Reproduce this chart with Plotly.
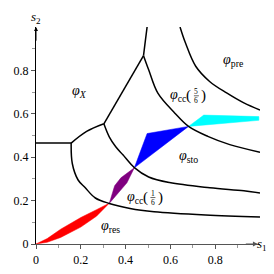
import plotly.graph_objects as go

# ---- boundary curves (s1, s2) ----
h_s1 = [0.0, 0.157]
h_s2 = [0.465, 0.465]

ab_s1 = [0.157, 0.226, 0.303]
ab_s2 = [0.465, 0.519, 0.554]

bc_s1 = [0.303, 0.480]
bc_s2 = [0.554, 0.868]

top_s1 = [0.480, 0.488, 0.496]
top_s2 = [0.868, 0.935, 1.0]

c1_s1 = [0.157, 0.162, 0.188, 0.219, 0.265, 0.327, 0.42, 0.527, 0.757, 1.0]
c1_s2 = [0.465, 0.371, 0.295, 0.260, 0.212, 0.187, 0.164, 0.149, 0.134, 0.125]

e_s1 = [0.303, 0.327, 0.356, 0.388, 0.439, 0.503, 0.596, 0.776, 0.928, 1.0]
e_s2 = [0.554, 0.494, 0.448, 0.411, 0.352, 0.309, 0.283, 0.259, 0.245, 0.235]

c2_s1 = [0.480, 0.503, 0.544, 0.620, 0.681, 0.767, 0.865, 1.0]
c2_s2 = [0.868, 0.803, 0.695, 0.603, 0.542, 0.496, 0.458, 0.423]

pre_s1 = [0.643, 0.667, 0.713, 0.775, 0.851, 0.928, 1.0]
pre_s2 = [1.0, 0.927, 0.819, 0.749, 0.696, 0.650, 0.617]

# ---- filled regions ----
red_s1 = [0.0, 0.05, 0.11, 0.20, 0.27, 0.327, 0.27, 0.20, 0.11, 0.05, 0.0]
red_s2 = [0.0, 0.025, 0.068, 0.122, 0.158, 0.188, 0.128, 0.078, 0.030, 0.008, 0.0]

purple_s1 = [0.327, 0.351, 0.379, 0.439, 0.406, 0.327]
purple_s2 = [0.187, 0.268, 0.305, 0.351, 0.282, 0.187]

blue_s1 = [0.439, 0.496, 0.681, 0.439]
blue_s2 = [0.351, 0.509, 0.542, 0.351]

cyan_s1 = [0.681, 0.749, 0.995, 0.995, 0.681]
cyan_s2 = [0.542, 0.594, 0.587, 0.570, 0.542]

# ---- labels ----
lab_text = ["<i>φ</i><sub><i>X</i></sub>", "<i>φ</i><sub>pre</sub>",
            "<i>φ</i><sub>sto</sub>", "<i>φ</i><sub>res</sub>"]
lab_s1 = [0.194, 0.882, 0.682, 0.334]
lab_s2 = [0.702, 0.846, 0.402, 0.082]

cc_num = ["5", "1"]
cc_den = ["6", "6"]
cc_s1 = [0.716, 0.522]
cc_s2 = [0.683, 0.214]

xticks = [0, 0.2, 0.4, 0.6, 0.8]
xtick_text = ["0", "0.2", "0.4", "0.6", "0.8"]
yticks = [0, 0.2, 0.4, 0.6, 0.8]
ytick_text = ["0", "0.2", "0.4", "0.6", "0.8"]
minor_ticks = [0.1, 0.3, 0.5, 0.7, 0.9]

SERIF = "Liberation Serif, DejaVu Serif, serif"

fig = go.Figure()

for xs, ys, col in [(red_s1, red_s2, "#ff0000"), (purple_s1, purple_s2, "#800080"),
                    (blue_s1, blue_s2, "#0000ff"), (cyan_s1, cyan_s2, "#00ffff")]:
    fig.add_trace(go.Scatter(x=xs, y=ys, mode="lines", fill="toself", fillcolor=col,
                             line=dict(color=col, width=0.5), hoverinfo="skip"))

for xs, ys, shp in [(h_s1, h_s2, "linear"), (ab_s1, ab_s2, "spline"), (bc_s1, bc_s2, "linear"),
                    (top_s1, top_s2, "spline"), (c1_s1, c1_s2, "spline"), (e_s1, e_s2, "spline"),
                    (c2_s1, c2_s2, "spline"), (pre_s1, pre_s2, "spline")]:
    fig.add_trace(go.Scatter(x=xs, y=ys, mode="lines",
                             line=dict(color="black", width=1.5, shape=shp), hoverinfo="skip"))

ann = []
for t, x, y in zip(lab_text, lab_s1, lab_s2):
    ann.append(dict(x=x, y=y, text=t, showarrow=False, font=dict(family=SERIF, size=14, color="black")))

shapes = []
for n, d, x, y in zip(cc_num, cc_den, cc_s1, cc_s2):
    ann.append(dict(x=x, y=y, xshift=-7, xanchor="right", text="<i>φ</i><sub>cc</sub>",
                    showarrow=False, font=dict(family=SERIF, size=14, color="black")))
    ann.append(dict(x=x, y=y, xshift=-3, xanchor="right", text="(", showarrow=False,
                    font=dict(family=SERIF, size=15, color="black")))
    ann.append(dict(x=x, y=y, yshift=4.5, text=n, showarrow=False,
                    font=dict(family=SERIF, size=7.5, color="black")))
    ann.append(dict(x=x, y=y, yshift=-4.5, text=d, showarrow=False,
                    font=dict(family=SERIF, size=7.5, color="black")))
    ann.append(dict(x=x, y=y, xshift=3, xanchor="left", text=")", showarrow=False,
                    font=dict(family=SERIF, size=15, color="black")))
    shapes.append(dict(type="line", xref="x", yref="y", xsizemode="pixel", ysizemode="pixel",
                       xanchor=x, yanchor=y, x0=-2.5, x1=2.5, y0=0, y1=0,
                       line=dict(color="black", width=0.6)))

# axis arrows
ann.append(dict(x=0, y=1.0, ax=0, ay=0.93, xref="x", yref="y", axref="x", ayref="y",
                showarrow=True, arrowhead=2, arrowsize=0.8, arrowwidth=1, arrowcolor="black", text=""))
ann.append(dict(x=0.99, y=0, ax=0.93, ay=0, xref="x", yref="y", axref="x", ayref="y",
                showarrow=True, arrowhead=2, arrowsize=0.8, arrowwidth=1.2, arrowcolor="#555", text=""))
ann.append(dict(x=0, y=1.0, yshift=10, text="<i>s</i><sub>2</sub>", showarrow=False,
                font=dict(family=SERIF, size=13, color="black")))
ann.append(dict(x=0.99, y=0, xanchor="left", xshift=-3, text="<i>s</i><sub>1</sub>", showarrow=False,
                font=dict(family=SERIF, size=13, color="black")))

axis_common = dict(range=[0, 1.0], showgrid=False, zeroline=False, showline=True, automargin=False,
                   ticks="outside", ticklen=4, tickcolor="#555",
                   minor=dict(tickvals=minor_ticks, ticks="outside", ticklen=3, tickcolor="#999"),
                   tickfont=dict(family=SERIF, size=12, color="black"))

# the page body has an 8px default margin, so the figure is 266x266 and offsets are reduced by 8
fig.update_layout(
    width=266, height=266,
    margin=dict(l=28, r=13.5, t=19, b=30, autoexpand=False),
    plot_bgcolor="white", paper_bgcolor="white",
    showlegend=False,
    annotations=ann, shapes=shapes,
    xaxis=dict(linecolor="#555", linewidth=1.2, tickvals=xticks, ticktext=xtick_text, **axis_common),
    yaxis=dict(linecolor="black", linewidth=1, tickvals=yticks, ticktext=ytick_text, **axis_common),
)

fig.write_html("out.html")
